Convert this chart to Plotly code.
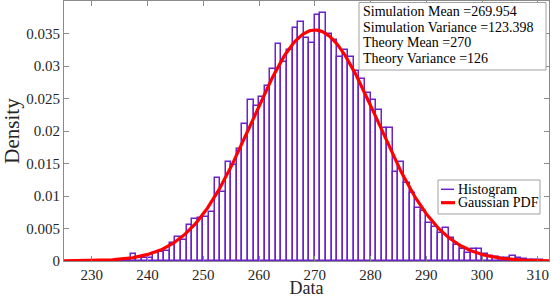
import numpy as np
import plotly.graph_objects as go

# ---- data ----
bin_left = list(range(234, 311))  # integer bins of width 1
density = [
    0.0001, 0.0001, 0.0002, 0.0011, 0.0004, 0.0005, 0.0004, 0.0012, 0.0014, 0.0015,  # 234-243
    0.0028, 0.0037, 0.0033, 0.0055, 0.0064, 0.0066, 0.0067, 0.0076, 0.0127, 0.0106,  # 244-253
    0.0152, 0.0147, 0.0173, 0.0211, 0.0248, 0.0238, 0.0253, 0.0270, 0.0296, 0.0334,  # 254-263
    0.0306, 0.0325, 0.0359, 0.0367, 0.0343, 0.0335, 0.0378, 0.0381, 0.0350, 0.0340,  # 264-273
    0.0314, 0.0325, 0.0314, 0.0293, 0.0280, 0.0258, 0.0248, 0.0232, 0.0205, 0.0205,  # 274-283
    0.0137, 0.0152, 0.0120, 0.0105, 0.0081, 0.0077, 0.0058, 0.0052, 0.0043, 0.0051,  # 284-293
    0.0036, 0.0025, 0.0018, 0.0013, 0.0018, 0.0018, 0.0011, 0.0007, 0.0006, 0.0005,  # 294-303
    0.0004, 0.0008, 0.0005, 0.0003, 0.0002, 0.0001, 0.0001,                          # 304-310
]
theory_mean = 270
theory_var = 126
info_lines = [
    "Simulation Mean =269.954",
    "Simulation Variance =123.398",
    "Theory Mean =270",
    "Theory Variance =126",
]
legend_labels = ["Histogram", "Gaussian PDF"]
x_ticks = [230, 240, 250, 260, 270, 280, 290, 300, 310]
y_ticks = [0, 0.005, 0.01, 0.015, 0.02, 0.025, 0.03, 0.035]
y_tick_text = ["0", "0.005", "0.01", "0.015", "0.02", "0.025", "0.03", "0.035"]

# ---- styling ----
PURPLE = "#6a22c9"
RED = "#ff0000"
FONT = "Liberation Serif"
AXIS_C = "#8a8a8a"
TXT_C = "#262626"

W, H = 552, 298
ML, MR, MT, MB = 64, 3, 1, 37
PW, PH = W - ML - MR, H - MT - MB


def px(xp):
    return (xp - ML) / PW


def py(yp):
    return (H - MB - yp) / PH


centers = [b + 0.5 for b in bin_left]
x_curve = np.linspace(225, 312, 400)
pdf = np.exp(-(x_curve - theory_mean) ** 2 / (2 * theory_var)) / np.sqrt(2 * np.pi * theory_var)

fig = go.Figure()
fig.add_trace(go.Bar(
    x=centers, y=density, width=[1] * len(centers),
    marker=dict(color="rgba(255,255,255,0)", line=dict(color=PURPLE, width=1.5)),
    showlegend=False, name=legend_labels[0],
))
fig.add_trace(go.Scatter(
    x=x_curve, y=pdf, mode="lines", line=dict(color=RED, width=3.2),
    showlegend=False, name=legend_labels[1],
))

axis_common = dict(
    showline=True, linecolor=AXIS_C, linewidth=1, mirror="ticks",
    ticks="inside", ticklen=5, tickcolor=AXIS_C, showgrid=False, zeroline=False,
    tickfont=dict(family=FONT, size=15, color=TXT_C),
)
fig.update_xaxes(range=[225, 312], tickvals=x_ticks,
                 title=dict(text="Data", font=dict(family=FONT, size=18, color=TXT_C), standoff=4),
                 **axis_common)
fig.update_yaxes(range=[0, 0.04], tickvals=y_ticks, ticktext=y_tick_text,
                 title=dict(text="Density", font=dict(family=FONT, size=21, color=TXT_C), standoff=4),
                 **axis_common)

shapes = []
annotations = []
# info box
shapes.append(dict(type="rect", xref="paper", yref="paper",
                   x0=px(359), x1=px(546), y0=py(70), y1=py(2.5),
                   line=dict(color="#a0a0a0", width=1), fillcolor="white", layer="above"))
for i, line in enumerate(info_lines):
    annotations.append(dict(xref="paper", yref="paper", x=px(361), y=py(11.5 + 15.6 * i),
                            xanchor="left", yanchor="middle", showarrow=False, text=line,
                            font=dict(family=FONT, size=14, color="black")))
# legend box
shapes.append(dict(type="rect", xref="paper", yref="paper",
                   x0=px(438), x1=px(540), y0=py(214), y1=py(180),
                   line=dict(color="#a0a0a0", width=1), fillcolor="white", layer="above"))
shapes.append(dict(type="line", xref="paper", yref="paper",
                   x0=px(441), x1=px(454), y0=py(189.3), y1=py(189.3),
                   line=dict(color=PURPLE, width=1.5), layer="above"))
shapes.append(dict(type="line", xref="paper", yref="paper",
                   x0=px(441), x1=px(455), y0=py(202.7), y1=py(202.7),
                   line=dict(color=RED, width=3.2), layer="above"))
for i, lab in enumerate(legend_labels):
    annotations.append(dict(xref="paper", yref="paper", x=px(455.5), y=py(189.3 + 13.4 * i),
                            xanchor="left", yanchor="middle", showarrow=False, text=lab,
                            font=dict(family=FONT, size=14, color="black")))

fig.update_layout(
    width=W, height=H,
    margin=dict(l=ML, r=MR, t=MT, b=MB, autoexpand=False),
    paper_bgcolor="white", plot_bgcolor="white",
    bargap=0, shapes=shapes, annotations=annotations,
)
fig.write_html("out.html", config={"displayModeBar": False},
               post_script="document.body.style.margin='0';document.body.style.overflow='hidden';")
